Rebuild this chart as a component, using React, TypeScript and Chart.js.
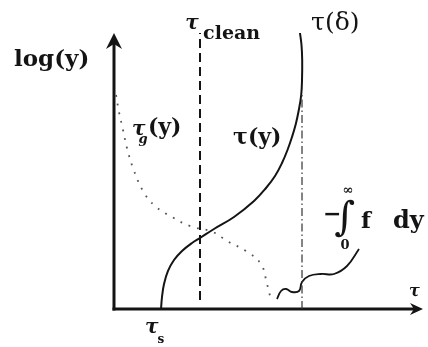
import React, { useEffect, useRef } from "react";
import { Chart, registerables } from "chart.js";

Chart.register(...registerables);

// Axis ranges (τ horizontally, log(y) vertically) in arbitrary schematic units
const X_MIN = 0;
const X_MAX = 10.3;
const Y_MIN = 0;
const Y_MAX = 9.2;

// τ(y) solid curve
const tauYX = [1.567, 1.6, 1.667, 1.8, 2.0, 2.267, 2.6, 2.867, 3.333, 4.0, 4.667, 5.067, 5.367, 5.6, 5.783, 5.933, 6.06, 6.16, 6.24, 6.267, 6.273, 6.25, 6.2];
const tauYY = [0, 0.4, 0.833, 1.267, 1.633, 1.933, 2.2, 2.367, 2.667, 3.067, 3.6, 4.033, 4.433, 4.867, 5.3, 5.733, 6.167, 6.633, 7.133, 7.633, 8.3, 8.8, 9.2];

// τ_g(y) dotted curve
const tauGX = [0.067, 0.167, 0.3, 0.433, 0.633, 0.967, 1.367, 1.933, 2.533, 3.3, 3.767, 4.4, 4.9, 5.1, 5.233];
const tauGY = [7.133, 6.567, 5.967, 5.367, 4.7, 3.933, 3.433, 3.067, 2.767, 2.567, 2.267, 1.933, 1.5, 0.833, 0.3];

// wiggly curve pointing to −∫ f dy
const wiggleX = [5.433, 5.567, 5.733, 5.933, 6.167, 6.267, 6.5, 6.9, 7.333, 7.767, 8.167];
const wiggleY = [0.333, 0.6, 0.667, 0.567, 0.6, 0.9, 1.1, 1.167, 1.167, 1.433, 2.0];

// vertical markers
const tauClean = 2.867;
const tauCleanRange = [0.3, 9.2];
const tauDelta = 6.267;
const tauDeltaRange = [0, 7.15];

const pts = (xs: number[], ys: number[]) => xs.map((x, i) => ({ x, y: ys[i] }));

type Lbl = { t: string; x: number; y: number; font: string; align?: CanvasTextAlign };
// text labels in data units (baseline-anchored)
const labels: Lbl[] = [
  { t: "log(y)", x: -3.333, y: 8.1, font: "bold 23px 'DejaVu Serif'", align: "left" },
  { t: "τ", x: 2.6, y: 9.35, font: "italic bold 20px 'DejaVu Serif'", align: "center" },
  { t: "clean", x: 2.97, y: 9.0, font: "bold 19px 'DejaVu Serif'", align: "left" },
  { t: "τ(δ)", x: 6.57, y: 9.3, font: "25px 'DejaVu Serif'", align: "left" },
  { t: "τ", x: 0.6, y: 5.8, font: "italic bold 20px 'DejaVu Serif'", align: "left" },
  { t: "g", x: 0.82, y: 5.55, font: "italic bold 13px 'DejaVu Serif'", align: "left" },
  { t: "(y)", x: 1.13, y: 5.85, font: "bold 22px 'DejaVu Serif'", align: "left" },
  { t: "τ(y)", x: 3.97, y: 5.5, font: "bold 22px 'DejaVu Serif'", align: "left" },
  { t: "−", x: 6.97, y: 2.95, font: "bold 22px 'DejaVu Serif'", align: "left" },
  { t: "∫", x: 7.7, y: 2.65, font: "40px 'DejaVu Serif'", align: "center" },
  { t: "∞", x: 7.8, y: 3.85, font: "bold 13px 'DejaVu Serif'", align: "center" },
  { t: "0", x: 7.7, y: 2.0, font: "bold 13px 'DejaVu Serif'", align: "center" },
  { t: "f", x: 8.23, y: 2.7, font: "bold 23px 'DejaVu Serif'", align: "left" },
  { t: "dy", x: 9.3, y: 2.7, font: "bold 24px 'DejaVu Serif'", align: "left" },
  { t: "τ", x: 9.83, y: 0.45, font: "italic bold 16px 'DejaVu Serif'", align: "left" },
  { t: "τ", x: 1.03, y: -0.8, font: "italic bold 20px 'DejaVu Serif'", align: "left" },
  { t: "s", x: 1.45, y: -1.12, font: "bold 12px 'DejaVu Serif'", align: "left" },
];

const ink = "#141414";

const decorPlugin = {
  id: "decor",
  beforeDatasetsDraw(chart: any) {
    const { ctx } = chart;
    const xs = chart.scales.x;
    const ys = chart.scales.y;
    const x0 = xs.getPixelForValue(X_MIN);
    const y0 = ys.getPixelForValue(Y_MIN);
    const xTop = ys.getPixelForValue(Y_MAX);
    const xRight = xs.getPixelForValue(X_MAX);
    ctx.save();
    ctx.strokeStyle = ink;
    ctx.fillStyle = ink;
    ctx.lineWidth = 3;
    ctx.lineCap = "butt";
    // y axis
    ctx.beginPath();
    ctx.moveTo(x0, y0 + 1.5);
    ctx.lineTo(x0, xTop + 8);
    ctx.stroke();
    // x axis
    ctx.beginPath();
    ctx.moveTo(x0 - 1.5, y0);
    ctx.lineTo(xRight - 6, y0);
    ctx.stroke();
    // arrowheads
    ctx.beginPath();
    ctx.moveTo(x0, xTop);
    ctx.lineTo(x0 - 8, xTop + 16);
    ctx.lineTo(x0, xTop + 11);
    ctx.lineTo(x0 + 8, xTop + 16);
    ctx.closePath();
    ctx.fill();
    ctx.beginPath();
    ctx.moveTo(xRight, y0);
    ctx.lineTo(xRight - 13, y0 - 6);
    ctx.lineTo(xRight - 9, y0);
    ctx.lineTo(xRight - 13, y0 + 6);
    ctx.closePath();
    ctx.fill();
    ctx.restore();
  },
  afterDatasetsDraw(chart: any) {
    const { ctx } = chart;
    const xs = chart.scales.x;
    const ys = chart.scales.y;
    ctx.save();
    ctx.fillStyle = ink;
    ctx.textBaseline = "alphabetic";
    for (const l of labels) {
      ctx.font = l.font;
      ctx.textAlign = l.align || "left";
      ctx.fillText(l.t, xs.getPixelForValue(l.x), ys.getPixelForValue(l.y));
    }
    ctx.restore();
  },
};

export default function App() {
  const ref = useRef<HTMLCanvasElement>(null);
  useEffect(() => {
    if (!ref.current) return;
    const chart = new Chart(ref.current, {
      type: "scatter",
      data: {
        datasets: [
          {
            label: "τ_clean",
            data: pts([tauClean, tauClean], tauCleanRange),
            showLine: true,
            borderColor: ink,
            borderWidth: 2,
            borderDash: [9, 5],
            pointRadius: 0,
          },
          {
            label: "τ(δ)",
            data: pts([tauDelta, tauDelta], tauDeltaRange),
            showLine: true,
            borderColor: "#333",
            borderWidth: 1.2,
            borderDash: [8, 3, 1.5, 3],
            pointRadius: 0,
          },
          {
            label: "τ_g(y)",
            data: pts(tauGX, tauGY),
            showLine: true,
            tension: 0.4,
            borderColor: "#555",
            borderWidth: 1.8,
            borderDash: [1.8, 7],
            pointRadius: 0,
          },
          {
            label: "τ(y)",
            data: pts(tauYX, tauYY),
            showLine: true,
            tension: 0.4,
            borderColor: ink,
            borderWidth: 2,
            pointRadius: 0,
          },
          {
            label: "wiggle",
            data: pts(wiggleX, wiggleY),
            showLine: true,
            tension: 0.4,
            borderColor: ink,
            borderWidth: 1.8,
            pointRadius: 0,
          },
        ],
      },
      options: {
        animation: false,
        responsive: false,
        clip: false as any,
        layout: { padding: { left: 114, top: 33, right: 5, bottom: 38 } },
        plugins: { legend: { display: false }, tooltip: { enabled: false } },
        scales: {
          x: { type: "linear", min: X_MIN, max: X_MAX, display: false },
          y: { type: "linear", min: Y_MIN, max: Y_MAX, display: false },
        },
      },
      plugins: [decorPlugin],
    });
    return () => chart.destroy();
  }, []);
  return (
    <div style={{ position: "absolute", left: 0, top: 0, width: 428, height: 347, background: "#fff" }}>
      <canvas ref={ref} width={428} height={347} style={{ display: "block" }} />
    </div>
  );
}
